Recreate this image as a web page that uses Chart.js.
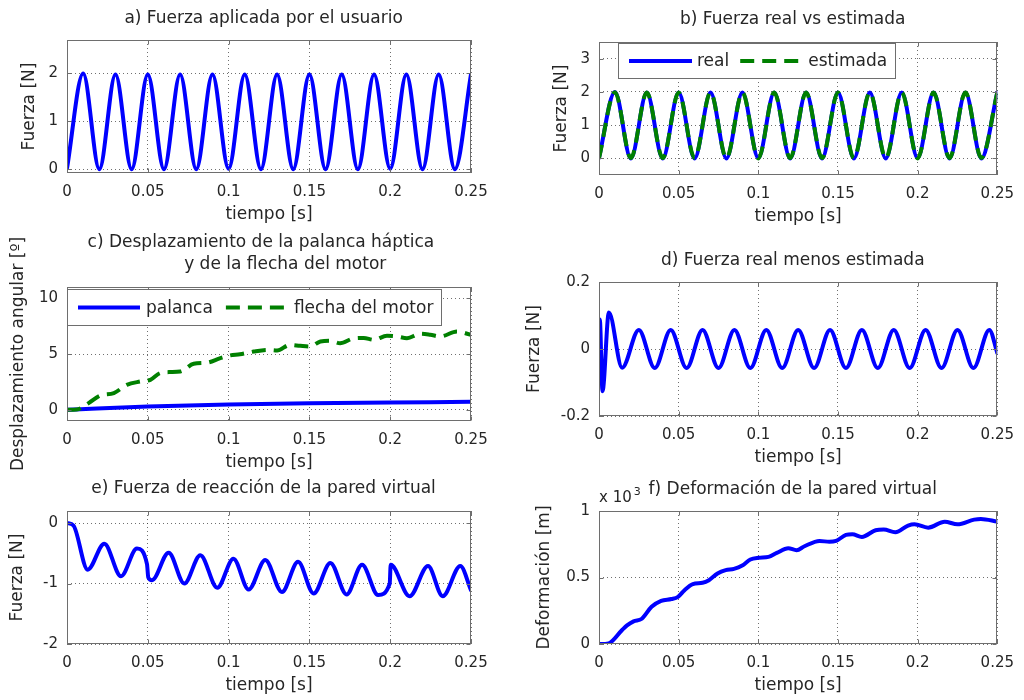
<!DOCTYPE html>
<html><head><meta charset="utf-8">
<script src="https://cdn.jsdelivr.net/npm/chart.js@4.4.0/dist/chart.umd.min.js"></script>
<style>
html,body{margin:0;padding:0;background:#fff;}
body{width:1024px;height:700px;position:relative;overflow:hidden;}
canvas{position:absolute;}
</style></head><body>
<canvas id="cA"></canvas><canvas id="cB"></canvas>
<canvas id="cC"></canvas><canvas id="cD"></canvas>
<canvas id="cE"></canvas><canvas id="cF"></canvas>
<script>
// ---------- data ----------
const xTicks = [0, 0.05, 0.1, 0.15, 0.2, 0.25];
const xTickLabels = ['0', '0.05', '0.1', '0.15', '0.2', '0.25'];

// a) & b) force (extremes of each half-cycle)
const tiempo = [0,0.01,0.02,0.03,0.04,0.05,0.06,0.07,0.08,0.09,0.1,0.11,0.12,0.13,0.14,0.15,0.16,0.17,0.18,0.19,0.2,0.21,0.22,0.23,0.24,0.25];
const fuerzaUsuario = [0.02,2.00,0.00,1.98,0.00,1.98,0.00,1.98,0.00,1.98,0.01,1.98,0.00,1.98,0.00,1.98,0.00,1.98,0.00,1.98,0.01,1.98,0.00,1.98,0.00,1.98];
const fuerzaReal = [0.02,2.00,0.00,1.98,0.00,1.98,0.00,1.98,0.00,1.98,0.01,1.98,0.00,1.98,0.00,1.98,0.00,1.98,0.00,1.98,0.01,1.98,0.00,1.98,0.00,1.98];
const fuerzaEstimada = [0.00,1.99,0.01,1.98,0.01,1.98,0.01,1.98,0.01,1.98,0.00,1.98,0.01,1.98,0.01,1.98,0.01,1.98,0.01,1.98,0.00,1.98,0.01,1.98,0.01,1.98];

// c) angular displacement
const tiempoPalanca = [0,0.015,0.05,0.1,0.15,0.2,0.25];
const palanca = [0,0.1,0.3,0.47,0.58,0.65,0.72];
const tiempoFlecha = [0,0.006,0.0134,0.0206,0.029,0.037,0.0454,0.0516,0.0578,0.064,0.0701,0.0784,0.0866,0.0949,0.1011,0.107,0.1155,0.124,0.13,0.138,0.1444,0.1506,0.1568,0.163,0.169,0.1774,0.1836,0.1898,0.198,0.2042,0.2104,0.2186,0.2248,0.231,0.2413,0.25];
const flecha = [0,0.02,0.6,1.28,1.5,2.24,2.54,2.69,3.30,3.38,3.43,4.12,4.22,4.63,4.88,4.97,5.22,5.37,5.31,5.82,5.73,5.67,6.12,6.18,5.97,6.40,6.44,6.27,6.63,6.57,6.42,6.81,6.72,6.57,7.01,6.72];

// d) real minus estimated
const tiempoDif = [0,0.0005,0.0022,0.0062,0.0145,0.025,0.035,0.045,0.055,0.065,0.075,0.085,0.095,0.105,0.115,0.125,0.135,0.145,0.155,0.165,0.175,0.185,0.195,0.205,0.215,0.225,0.235,0.245,0.25];
const fuerzaDif = [0.08,0.088,-0.126,0.109,-0.056,0.057,-0.057,0.057,-0.057,0.057,-0.057,0.057,-0.057,0.057,-0.057,0.057,-0.057,0.057,-0.057,0.057,-0.057,0.057,-0.057,0.057,-0.057,0.057,-0.057,0.057,-0.012];

// e) reaction force of the virtual wall
const tiempoReac = [0,0.004,0.0128,0.0231,0.0334,0.0433,0.0495,0.0503,0.0526,0.0629,0.0726,0.0825,0.093,0.103,0.1124,0.1227,0.133,0.143,0.1526,0.163,0.173,0.1826,0.1925,0.1997,0.2003,0.212,0.2234,0.2325,0.2434,0.25];
const fuerzaReac = [0,-0.04,-0.77,-0.34,-0.88,-0.42,-0.68,-0.90,-0.945,-0.49,-1.0,-0.53,-1.07,-0.59,-1.10,-0.61,-1.14,-0.64,-1.165,-0.66,-1.18,-0.69,-1.19,-1.0,-0.69,-1.21,-0.71,-1.21,-0.71,-1.11];

// f) deformation of the virtual wall (x 10^-3 m)
const tiempoDef = [0,0.006,0.0145,0.0176,0.0217,0.0269,0.033,0.039,0.0455,0.0496,0.0537,0.0589,0.065,0.069,0.0744,0.0795,0.0847,0.0899,0.095,0.1002,0.1064,0.1116,0.1188,0.124,0.129,0.1384,0.1446,0.1488,0.155,0.159,0.165,0.1736,0.1787,0.186,0.194,0.198,0.2066,0.217,0.225,0.2355,0.2397,0.25];
const deformacion = [0,0.005,0.105,0.14,0.17,0.19,0.28,0.325,0.338,0.355,0.405,0.45,0.46,0.48,0.53,0.555,0.565,0.59,0.635,0.648,0.655,0.685,0.72,0.705,0.735,0.775,0.768,0.775,0.82,0.825,0.805,0.855,0.86,0.84,0.89,0.9,0.875,0.92,0.9,0.935,0.94,0.92];

// y ticks
const yTicksA = [0,1,2], yLabelsA = ['0','1','2'];
const yTicksB = [0,1,2,3], yLabelsB = ['0','1','2','3'];
const yTicksC = [0,5,10], yLabelsC = ['0','5','10'];
const yTicksD = [-0.2,0,0.2], yLabelsD = ['-0.2','0','0.2'];
const yTicksE = [-2,-1,0], yLabelsE = ['-2','-1','0'];
const yTicksF = [0,0.5,1], yLabelsF = ['0','0.5','1'];

// ---------- styling / helpers ----------
const FONT = 'DejaVu Sans';
const TXT = '#262626';
const AXC = '#6e6e6e';
const GRIDC = 'rgba(50,50,50,0.7)';
const BLUE = '#0000ff';
const GREEN = '#008000';
Chart.defaults.font.family = FONT;

const pts = (t, v) => t.map((x, i) => ({x: x, y: v[i]}));

const boxPlugin = {
  id: 'boxFrame',
  afterDraw(chart) {
    const {ctx, chartArea: a, scales: {x, y}} = chart;
    ctx.save();
    ctx.strokeStyle = AXC; ctx.lineWidth = 1; ctx.setLineDash([]);
    const L = Math.round(a.left) + 0.5, R = Math.round(a.right) - 0.5;
    const T = Math.round(a.top) + 0.5, B = Math.round(a.bottom) - 0.5;
    ctx.beginPath();
    x.ticks.forEach(t => { const p = Math.round(x.getPixelForValue(t.value)) + 0.5;
      ctx.moveTo(p, B); ctx.lineTo(p, B - 4); ctx.moveTo(p, T); ctx.lineTo(p, T + 4); });
    y.ticks.forEach(t => { const p = Math.round(y.getPixelForValue(t.value)) + 0.5;
      ctx.moveTo(L, p); ctx.lineTo(L + 4, p); ctx.moveTo(R, p); ctx.lineTo(R - 4, p); });
    ctx.stroke();
    ctx.strokeRect(L, T, R - L, B - T);
    ctx.restore();
  }
};

const legendPlugin = {
  id: 'boxLegend',
  afterDraw(chart, args, opts) {
    if (!opts || !opts.show) return;
    const {ctx, chartArea: a} = chart;
    ctx.save();
    ctx.font = '17px "' + FONT + '"';
    const items = chart.data.datasets.map(d => ({text: d.label, color: d.borderColor, dash: d.borderDash || [], w: d.borderWidth}));
    let w = opts.pad;
    items.forEach((it, i) => { w += opts.sample + opts.gap + ctx.measureText(it.text).width + (i < items.length - 1 ? opts.gapItem : opts.padR); });
    const L = Math.round(a.left + opts.dx), T = Math.round(a.top + opts.dy), H = opts.h;
    w = Math.round(w);
    ctx.fillStyle = '#fff'; ctx.fillRect(L, T, w, H);
    ctx.strokeStyle = AXC; ctx.lineWidth = 1; ctx.strokeRect(L + 0.5, T + 0.5, w - 1, H - 1);
    let xx = L + opts.pad; const cy = T + H / 2;
    items.forEach(it => {
      ctx.beginPath(); ctx.setLineDash(it.dash); ctx.strokeStyle = it.color; ctx.lineWidth = it.w;
      ctx.moveTo(xx, cy); ctx.lineTo(xx + opts.sample, cy); ctx.stroke(); ctx.setLineDash([]);
      xx += opts.sample + opts.gap;
      ctx.fillStyle = TXT; ctx.textBaseline = 'middle'; ctx.textAlign = 'left';
      ctx.fillText(it.text, xx, cy + 1);
      xx += ctx.measureText(it.text).width + opts.gapItem;
    });
    ctx.restore();
  }
};

const expPlugin = {
  id: 'expLabel',
  afterDraw(chart, args, opts) {
    if (!opts || !opts.base) return;
    const {ctx, chartArea: a} = chart;
    ctx.save();
    ctx.fillStyle = TXT; ctx.textAlign = 'left'; ctx.textBaseline = 'alphabetic';
    ctx.font = '15px "' + FONT + '"';
    ctx.fillText(opts.base, a.left, a.top - 9);
    const wb = ctx.measureText(opts.base).width;
    ctx.font = '11px "' + FONT + '"';
    ctx.fillText(opts.exp, a.left + wb + 2, a.top - 16);
    ctx.restore();
  }
};

function makePanel(id, P) {
  const cv = document.getElementById(id);
  cv.width = P.cw; cv.height = P.ch;
  cv.style.left = P.cx + 'px'; cv.style.top = P.cy + 'px';
  cv.style.width = P.cw + 'px'; cv.style.height = P.ch + 'px';
  const lines = Array.isArray(P.title) ? P.title.length : 1;
  const tLH = P.titleLH || 20.4;
  const tPadTop = P.titleCY - P.cy - tLH / 2;
  const tPadBot = (P.box.t - P.cy) - tPadTop - lines * tLH;
  const Wy = P.box.l - P.cx;
  const Hx = 52;
  const padR = P.cx + P.cw - P.box.r;
  const padB = P.cy + P.ch - P.box.b - Hx;
  const gridOpts = {color: GRIDC, drawTicks: false, lineWidth: 1};
  new Chart(cv, {
    type: 'line',
    data: {datasets: P.datasets},
    options: {
      responsive: false, animation: false, events: [],
      layout: {padding: {left: 0, top: 0, right: padR, bottom: padB}},
      plugins: {
        legend: {display: false}, tooltip: {enabled: false},
        title: {display: true, text: P.title, fullSize: false, color: TXT,
          font: {family: FONT, size: 17, weight: 'normal', lineHeight: tLH / 17},
          padding: {top: tPadTop, bottom: tPadBot}},
        boxLegend: P.legend || {show: false},
        expLabel: P.exp || {}
      },
      scales: {
        x: {type: 'linear', min: 0, max: 0.25,
          afterFit(s) { s.height = Hx; },
          afterBuildTicks(s) { s.ticks = xTicks.map(v => ({value: v})); },
          ticks: {padding: 10, color: TXT, font: {family: FONT, size: 15}, maxRotation: 0, autoSkip: false,
            callback: (v, i) => xTickLabels[i]},
          grid: gridOpts, border: {display: false, dash: [1, 3]},
          title: {display: true, text: 'tiempo [s]', color: TXT, font: {family: FONT, size: 17, lineHeight: 1.2}, padding: {top: 0, bottom: 0}}
        },
        y: {type: 'linear', min: P.ymin, max: P.ymax,
          afterFit(s) { s.width = Wy; },
          afterBuildTicks(s) { s.ticks = P.yTicks.map(v => ({value: v})); },
          ticks: {padding: 9, color: TXT, font: {family: FONT, size: 15}, autoSkip: false,
            callback: (v, i) => P.yLabels[i]},
          grid: gridOpts, border: {display: false, dash: [1, 3]},
          title: {display: true, text: P.ylabel, color: TXT, font: {family: FONT, size: 17, lineHeight: 1.2},
            padding: {top: P.ylabelCX - P.cx - 10.2, bottom: 0}}
        }
      }
    },
    plugins: [boxPlugin, legendPlugin, expPlugin]
  });
}

const solid = (label, t, v, color, order) => ({label: label, data: pts(t, v), borderColor: color, borderWidth: 4,
  pointRadius: 0, fill: false, cubicInterpolationMode: 'monotone', borderJoinStyle: 'round', borderCapStyle: 'round', order: order || 1});
const dashed = (label, t, v, color, order) => ({label: label, data: pts(t, v), borderColor: color, borderWidth: 4,
  borderDash: [14, 8], pointRadius: 0, fill: false, cubicInterpolationMode: 'monotone', borderCapStyle: 'butt', order: order || 1});

makePanel('cA', {cx: 0, cy: 0, cw: 512, ch: 228, box: {l: 67, t: 40, r: 471, b: 173},
  title: 'a) Fuerza aplicada por el usuario  ', titleCY: 19, ylabel: 'Fuerza [N]', ylabelCX: 30,
  ymin: -0.08, ymax: 2.7, yTicks: yTicksA, yLabels: yLabelsA,
  datasets: [solid('fuerza', tiempo, fuerzaUsuario, BLUE)]});

makePanel('cB', {cx: 512, cy: 0, cw: 512, ch: 230, box: {l: 599, t: 42, r: 1002, b: 175},
  title: 'b) Fuerza real vs estimada  ', titleCY: 20, ylabel: 'Fuerza [N]', ylabelCX: 562,
  ymin: -0.5, ymax: 3.5, yTicks: yTicksB, yLabels: yLabelsB,
  legend: {show: true, dx: 19, dy: 1, h: 36, pad: 11, sample: 63, gap: 5, gapItem: 11, padR: 9},
  datasets: [solid('real', tiempo, fuerzaReal, BLUE, 2), dashed('estimada', tiempo, fuerzaEstimada, GREEN, 1)]});

makePanel('cC', {cx: 0, cy: 230, cw: 512, ch: 250, box: {l: 67, t: 287, r: 471, b: 421},
  title: ['c) Desplazamiento de la palanca háptica   ', '      y de la flecha del motor'], titleCY: 243, titleLH: 22,
  ylabel: 'Desplazamiento angular [º]', ylabelCX: 19,
  ymin: -1, ymax: 11, yTicks: yTicksC, yLabels: yLabelsC,
  legend: {show: true, dx: 0, dy: 2, h: 37, pad: 11, sample: 62, gap: 6, gapItem: 13, padR: 9},
  datasets: [solid('palanca', tiempoPalanca, palanca, BLUE, 2), dashed('flecha del motor', tiempoFlecha, flecha, GREEN, 1)]});

makePanel('cD', {cx: 512, cy: 230, cw: 512, ch: 240, box: {l: 599, t: 282, r: 1002, b: 416},
  title: 'd) Fuerza real menos estimada  ', titleCY: 261, ylabel: 'Fuerza [N]', ylabelCX: 535,
  ymin: -0.2, ymax: 0.2, yTicks: yTicksD, yLabels: yLabelsD,
  datasets: [solid('diferencia', tiempoDif, fuerzaDif, BLUE)]});

makePanel('cE', {cx: 0, cy: 470, cw: 512, ch: 230, box: {l: 67, t: 511, r: 471, b: 644},
  title: 'e) Fuerza de reacción de la pared virtual  ', titleCY: 489, ylabel: 'Fuerza [N]', ylabelCX: 18,
  ymin: -2, ymax: 0.2, yTicks: yTicksE, yLabels: yLabelsE,
  datasets: [solid('reacción', tiempoReac, fuerzaReac, BLUE)]});

makePanel('cF', {cx: 512, cy: 470, cw: 512, ch: 230, box: {l: 599, t: 511, r: 1002, b: 644},
  title: 'f) Deformación de la pared virtual  ', titleCY: 490, ylabel: 'Deformación [m]', ylabelCX: 545,
  ymin: 0, ymax: 1, yTicks: yTicksF, yLabels: yLabelsF,
  exp: {base: 'x 10', exp: '3'},
  datasets: [solid('deformación', tiempoDef, deformacion, BLUE)]});
</script>
</body></html>
